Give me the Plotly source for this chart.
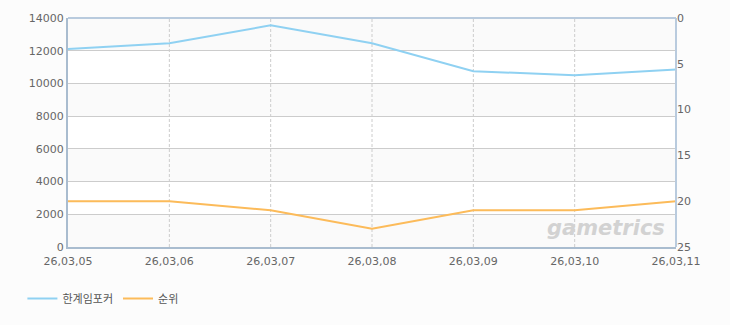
import plotly.graph_objects as go

dates = ["26,03,05", "26,03,06", "26,03,07", "26,03,08", "26,03,09", "26,03,10", "26,03,11"]
players = [12100, 12450, 13550, 12450, 10750, 10500, 10850]
rank = [20, 20, 21, 23, 21, 21, 20]
left_ticks = [0, 2000, 4000, 6000, 8000, 10000, 12000, 14000]
right_ticks = [0, 5, 10, 15, 20, 25]

BLUE = "#8fd1f2"
ORANGE = "#fcbb5a"
GRID = "#cccccc"
TICKC = "#666666"

fig = go.Figure()
fig.add_trace(go.Scatter(x=dates, y=players, name="한계임포커", mode="lines",
                         line=dict(color=BLUE, width=2), yaxis="y"))
fig.add_trace(go.Scatter(x=dates, y=rank, name="순위", mode="lines",
                         line=dict(color=ORANGE, width=2), yaxis="y2"))

# alternating bands
shapes = []
for i in range(len(left_ticks) - 1):
    if i % 2 == 0:
        shapes.append(dict(type="rect", xref="paper", yref="y", x0=0, x1=1,
                           y0=left_ticks[i], y1=left_ticks[i + 1],
                           fillcolor="#fafafa", line=dict(width=0), layer="below"))
# vertical dashed grid lines
for d in dates[1:-1]:
    shapes.append(dict(type="line", xref="x", yref="paper", x0=d, x1=d, y0=0, y1=1,
                       line=dict(color=GRID, width=1, dash="3px,2px"), layer="below"))
# top & right frame
shapes.append(dict(type="line", xref="paper", yref="paper", x0=0, x1=1, y0=1, y1=1,
                   line=dict(color="#b9cbde", width=2)))
shapes.append(dict(type="line", xref="paper", yref="paper", x0=1, x1=1, y0=0, y1=1,
                   line=dict(color="#b9cbde", width=2)))

fig.update_layout(
    width=730, height=325,
    margin=dict(l=68, r=54, t=16, b=77),
    paper_bgcolor="#fcfcfc", plot_bgcolor="#ffffff",
    font=dict(family="DejaVu Sans, Noto Sans CJK KR", size=11, color=TICKC),
    showlegend=True,
    legend=dict(orientation="h", x=-0.075, xanchor="left", y=-0.225, yanchor="middle",
                font=dict(family="Noto Sans CJK KR", size=11, color="#555555"),
                bgcolor="rgba(0,0,0,0)", itemwidth=30, traceorder="normal"),
    xaxis=dict(type="category", range=[0, len(dates) - 1], showgrid=False,
               showline=True, linecolor="#a9bccf", linewidth=2,
               ticks="outside", ticklen=3, tickcolor="rgba(0,0,0,0)",
               tickfont=dict(size=11, color=TICKC), fixedrange=True),
    yaxis=dict(range=[0, 14000], tickvals=left_ticks,
               ticktext=[str(v) for v in left_ticks],
               showgrid=True, gridcolor=GRID,
               gridwidth=1, showline=True, linecolor="#a9bccf", linewidth=2,
               ticks="", zeroline=False, tickfont=dict(size=11, color=TICKC)),
    yaxis2=dict(range=[25, 0], tickvals=right_ticks, overlaying="y", side="right",
                showgrid=False, zeroline=False, showline=False, ticks="",
                tickfont=dict(size=11, color=TICKC)),
    shapes=shapes,
    annotations=[dict(text="<b><i>gametrics</i></b>", xref="paper", yref="paper",
                      x=0.985, y=0.085, xanchor="right", yanchor="middle",
                      showarrow=False,
                      font=dict(family="DejaVu Sans", size=21, color="#d2d2d2"))],
)

fig.write_html("out.html")
